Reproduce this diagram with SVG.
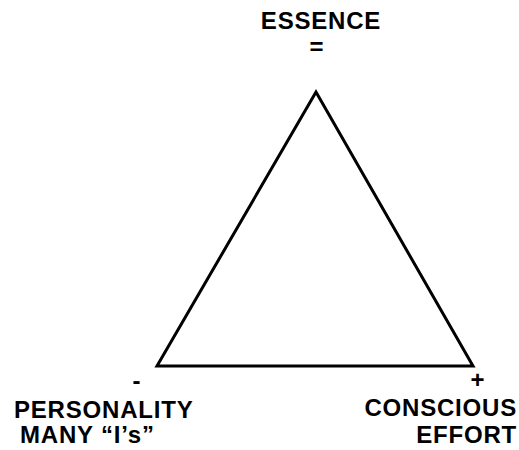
<svg xmlns="http://www.w3.org/2000/svg" width="519" height="450" viewBox="0 0 519 450">
<style>
text{font-family:"Liberation Sans",Arial,sans-serif;font-weight:bold;font-size:24px;fill:#000;letter-spacing:0.8px}
.c{text-anchor:middle}
.r{text-anchor:end}
</style>
<rect width="519" height="450" fill="#fff"/>
<g id="connectors">
<polygon points="316,92 157,366 473,366" fill="none" stroke="#000" stroke-width="3" stroke-linejoin="miter"/>
</g>
<g id="essence">
<text class="c" x="321" y="29">ESSENCE</text>
<text class="c" x="317" y="55">=</text>
</g>
<g id="personality">
<text class="c" x="137" y="389">-</text>
<text x="14" y="418">PERSONALITY</text>
<text x="20" y="443">MANY “I’s”</text>
</g>
<g id="conscious">
<text class="c" x="478" y="388">+</text>
<text class="r" x="517" y="416">CONSCIOUS</text>
<text class="r" x="517" y="443">EFFORT</text>
</g>
</svg>
